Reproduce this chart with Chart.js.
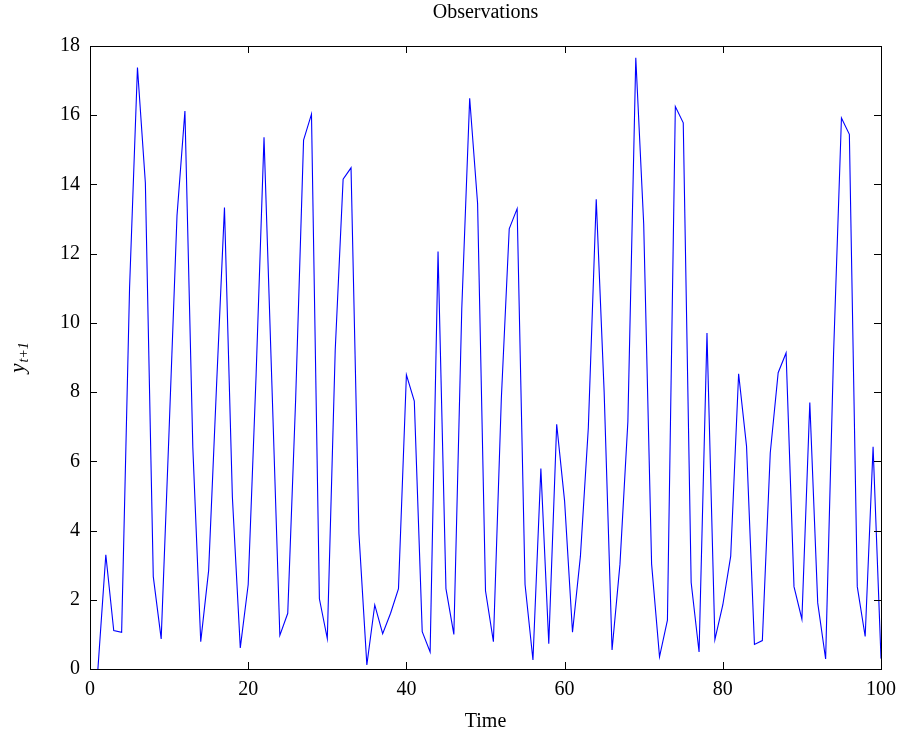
<!DOCTYPE html>
<html>
<head>
<meta charset="utf-8">
<script src="https://cdn.jsdelivr.net/npm/chart.js@4"></script>
<style>
  html, body { margin: 0; padding: 0; background: #ffffff; }
  #wrap { width: 902px; height: 737px; }
</style>
</head>
<body>
<div id="wrap"><canvas id="c" width="902" height="737"></canvas></div>
<script>
// ---- data ----
const timeSteps = [1,2,3,4,5,6,7,8,9,10,11,12,13,14,15,16,17,18,19,20,21,22,23,24,25,26,27,28,29,30,31,32,33,34,35,36,37,38,39,40,41,42,43,44,45,46,47,48,49,50,51,52,53,54,55,56,57,58,59,60,61,62,63,64,65,66,67,68,69,70,71,72,73,74,75,76,77,78,79,80,81,82,83,84,85,86,87,88,89,90,91,92,93,94,95,96,97,98,99,100];
const observations = [
  0.00, 3.30, 1.11, 1.06, 11.0, 17.38, 14.04, 2.67, 0.87, 6.9,
  13.1, 16.12, 6.4, 0.79, 2.85, 8.2, 13.33, 4.97, 0.61, 2.44,
  8.5, 15.36, 8.2, 0.97, 1.61, 7.8, 15.28, 16.03, 2.03, 0.88,
  9.2, 14.15, 14.48, 3.91, 0.12, 1.85, 1.02, 1.61, 2.32, 8.50,
  7.74, 1.08, 0.49, 12.06, 2.32, 1.00, 10.4, 16.49, 13.45, 2.26,
  0.79, 7.8, 12.72, 13.30, 2.44, 0.26, 5.79, 0.73, 7.07, 4.85,
  1.06, 3.26, 6.97, 13.57, 8.0, 0.55, 3.03, 7.15, 17.66, 12.86,
  3.03, 0.35, 1.41, 16.25, 15.78, 2.50, 0.49, 9.71, 0.85, 1.85,
  3.26, 8.53, 6.44, 0.71, 0.82, 6.24, 8.56, 9.13, 2.38, 1.44,
  7.70, 1.91, 0.29, 9.09, 15.92, 15.45, 2.38, 0.94, 6.42, 0.30
];
const xTickValues = [0, 20, 40, 60, 80, 100];
const yTickValues = [0, 2, 4, 6, 8, 10, 12, 14, 16, 18];
const chartTitle = "Observations";
const xAxisTitle = "Time";
const yAxisMain = "y";
const yAxisSub = "t+1";

const points = timeSteps.map((t, i) => ({ x: t, y: observations[i] }));
const SERIF = "'Liberation Serif', 'DejaVu Serif', serif";

const framePlugin = {
  id: 'frame',
  afterDraw(chart) {
    const ctx = chart.ctx;
    const a = chart.chartArea;
    const xs = chart.scales.x, ys = chart.scales.y;
    ctx.save();
    ctx.strokeStyle = '#000000';
    ctx.lineWidth = 1;
    // box
    ctx.strokeRect(Math.round(a.left) + 0.5, Math.round(a.top) + 0.5,
                   Math.round(a.right - a.left), Math.round(a.bottom - a.top));
    // inward ticks
    const tl = 7;
    ctx.beginPath();
    xTickValues.forEach(v => {
      const px = Math.round(xs.getPixelForValue(v)) + 0.5;
      ctx.moveTo(px, a.bottom); ctx.lineTo(px, a.bottom - tl);
      ctx.moveTo(px, a.top); ctx.lineTo(px, a.top + tl);
    });
    yTickValues.forEach(v => {
      const py = Math.round(ys.getPixelForValue(v)) + 0.5;
      ctx.moveTo(a.left, py); ctx.lineTo(a.left + tl, py);
      ctx.moveTo(a.right, py); ctx.lineTo(a.right - tl, py);
    });
    ctx.stroke();
    // titles
    ctx.fillStyle = '#000000';
    ctx.textAlign = 'center';
    ctx.textBaseline = 'middle';
    ctx.font = "20px " + SERIF;
    ctx.fillText(chartTitle, (a.left + a.right) / 2, 13);
    ctx.fillText(xAxisTitle, (a.left + a.right) / 2, 722);
    // y axis label, rotated
    ctx.translate(24, (a.top + a.bottom) / 2);
    ctx.rotate(-Math.PI / 2);
    ctx.font = "italic 21px " + SERIF;
    const wMain = ctx.measureText(yAxisMain).width;
    ctx.font = "italic 14px " + SERIF;
    const wSub = ctx.measureText(yAxisSub).width;
    const total = wMain + wSub + 1;
    ctx.textAlign = 'left';
    ctx.textBaseline = 'alphabetic';
    ctx.font = "italic 21px " + SERIF;
    ctx.fillText(yAxisMain, -total / 2, 0);
    ctx.font = "italic 14px " + SERIF;
    ctx.fillText(yAxisSub, -total / 2 + wMain + 1, 4);
    ctx.restore();
  }
};

new Chart(document.getElementById('c'), {
  type: 'line',
  data: {
    datasets: [{
      data: points,
      borderColor: '#0000ff',
      borderWidth: 1.1,
      pointRadius: 0,
      tension: 0,
      fill: false
    }]
  },
  options: {
    responsive: false,
    animation: false,
    layout: { padding: { top: 46, right: 21, left: 0, bottom: 0 } },
    plugins: { legend: { display: false }, title: { display: false }, tooltip: { enabled: false } },
    scales: {
      x: {
        type: 'linear', min: 0, max: 100,
        afterFit(s) { s.height = 68; s.paddingLeft = 0; s.paddingRight = 0; },
        afterBuildTicks(s) { s.ticks = xTickValues.map(v => ({ value: v })); },
        grid: { display: false, drawTicks: false },
        border: { display: false },
        ticks: { color: '#000', font: { family: SERIF, size: 20 }, padding: 9, maxRotation: 0 }
      },
      y: {
        type: 'linear', min: 0, max: 18,
        afterFit(s) { s.width = 90; s.paddingTop = 0; s.paddingBottom = 0; },
        afterBuildTicks(s) { s.ticks = yTickValues.map(v => ({ value: v })); },
        grid: { display: false, drawTicks: false },
        border: { display: false },
        ticks: { color: '#000', font: { family: SERIF, size: 20 }, padding: 10 }
      }
    }
  },
  plugins: [framePlugin]
});
</script>
</body>
</html>
